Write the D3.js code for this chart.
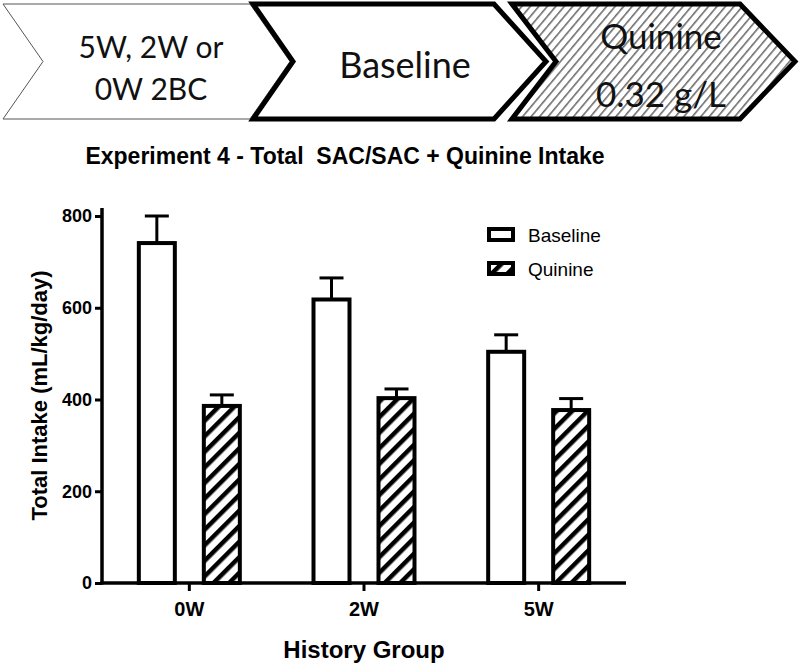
<!DOCTYPE html>
<html>
<head>
<meta charset="utf-8">
<script src="https://cdn.jsdelivr.net/npm/d3@7"></script>
<style>
  body { margin: 0; background: #fff; }
  text { font-family: Arial, "Liberation Sans", sans-serif; }
</style>
</head>
<body>
<div id="chart"></div>
<script>
// chart data
const groups = ["0W", "2W", "5W"];
const series = ["Baseline", "Quinine"];
const baselineMean = [741, 618, 504];
const baselineSem = [59, 47, 37];
const quinineMean = [386, 403, 377];
const quinineSem = [24, 20, 25];
const yTicks = [0, 200, 400, 600, 800];

// banner steps
const stepLines = [["5W, 2W or", "0W 2BC"], ["Baseline"], ["Quinine", "0.32 g/L"]];

const width = 800;
const height = 666;

const svg = d3
  .select("#chart")
  .append("svg")
  .attr("width", width)
  .attr("height", height);

const defs = svg.append("defs");

// hatching for the quinine bars
defs
  .append("pattern")
  .attr("id", "barHatch")
  .attr("patternUnits", "userSpaceOnUse")
  .attr("width", 11)
  .attr("height", 11)
  .attr("patternTransform", "rotate(45)")
  .call((p) => {
    p.append("rect").attr("width", 11).attr("height", 11).attr("fill", "#fff");
    p.append("rect").attr("width", 4.5).attr("height", 11).attr("fill", "#000");
  });

// thin grey hatching for the banner
defs
  .append("pattern")
  .attr("id", "bannerHatch")
  .attr("patternUnits", "userSpaceOnUse")
  .attr("width", 6.5)
  .attr("height", 6.5)
  .attr("patternTransform", "rotate(40)")
  .call((p) => {
    p.append("rect").attr("width", 6.5).attr("height", 6.5).attr("fill", "#fff");
    p.append("rect").attr("width", 1.6).attr("height", 6.5).attr("fill", "#707070");
  });

// Banner of chevrons
function chevron(x0, x1, notch, point, y0, y1) {
  const ym = (y0 + y1) / 2;
  return `M${x0},${y0}L${x1 - point},${y0}L${x1},${ym}L${x1 - point},${y1}L${x0},${y1}L${x0 + notch},${ym}Z`;
}

const chevrons = [
  { x0: 3, x1: 290, notch: 40, point: 40, fill: "#fff", stroke: "#555", sw: 1, cx: 151, fs: 30 },
  { x0: 253, x1: 546, notch: 40, point: 52, fill: "#fff", stroke: "#000", sw: 5, cx: 405, fs: 36 },
  { x0: 512, x1: 795, notch: 44, point: 55, fill: "url(#bannerHatch)", stroke: "#000", sw: 5, cx: 661, fs: 35 },
];

const banner = svg.append("g");
chevrons.forEach((c, i) => {
  banner
    .append("path")
    .attr("d", chevron(c.x0, c.x1, c.notch, c.point, 4, 119))
    .attr("fill", c.fill)
    .attr("stroke", c.stroke)
    .attr("stroke-width", c.sw)
    .attr("stroke-linejoin", "miter");
  const lines = stepLines[i];
  const startY = lines.length === 1 ? 78 : i === 2 ? 49 : 58;
  const gap = i === 2 ? 58 : 42;
  lines.forEach((t, j) => {
    banner
      .append("text")
      .attr("x", c.cx)
      .attr("y", startY + j * gap)
      .attr("text-anchor", "middle")
      .style("font-family", "Lato, 'Open Sans', sans-serif")
      .style("font-size", c.fs + "px")
      .attr("fill", "#111")
      .text(t);
  });
});

// Chart area
const x0 = 102;
const x1 = 626;
const yBottom = 583;
const yTop = 216;

const xScale = d3.scaleBand().domain(groups).range([x0, x1]);
const subScale = d3
  .scaleBand()
  .domain(series)
  .range([-52.5, 52.5])
  .paddingInner(0.3846);
const yScale = d3.scaleLinear().domain([0, 800]).range([yBottom, yTop]);

const rows = [];
groups.forEach((g, i) => {
  rows.push({ group: g, key: "Baseline", mean: baselineMean[i], sem: baselineSem[i] });
  rows.push({ group: g, key: "Quinine", mean: quinineMean[i], sem: quinineSem[i] });
});

const barX = (d) => xScale(d.group) + xScale.bandwidth() / 2 + subScale(d.key);
const sw = 4;

// error bars (drawn first so the bar outline covers the stem start)
const err = svg.append("g").attr("stroke", "#000").attr("stroke-width", 3);
rows.forEach((d) => {
  const cx = barX(d) + subScale.bandwidth() / 2;
  err
    .append("line")
    .attr("x1", cx)
    .attr("x2", cx)
    .attr("y1", yScale(d.mean))
    .attr("y2", yScale(d.mean + d.sem));
  err
    .append("line")
    .attr("x1", cx - 12)
    .attr("x2", cx + 12)
    .attr("y1", yScale(d.mean + d.sem))
    .attr("y2", yScale(d.mean + d.sem));
});

// Draw bars
svg
  .selectAll(".bar")
  .data(rows)
  .enter()
  .append("rect")
  .attr("class", "bar")
  .attr("x", (d) => barX(d) + sw / 2)
  .attr("y", (d) => yScale(d.mean))
  .attr("width", subScale.bandwidth() - sw)
  .attr("height", (d) => yBottom - yScale(d.mean))
  .attr("fill", (d) => (d.key === "Baseline" ? "#fff" : "url(#barHatch)"))
  .attr("stroke", "#000")
  .attr("stroke-width", sw);

// Axes
const yAxis = d3
  .axisLeft(yScale)
  .tickValues(yTicks)
  .tickSize(7)
  .tickSizeOuter(0)
  .tickPadding(3);

const yG = svg.append("g").attr("transform", `translate(${x0}, 0)`).call(yAxis);
yG.select(".domain").remove();
yG.selectAll(".tick line").attr("stroke", "#000").attr("stroke-width", 3);
yG.selectAll(".tick text")
  .attr("fill", "#000")
  .style("font-size", "18px")
  .style("font-weight", "bold");
svg
  .append("line")
  .attr("x1", x0)
  .attr("x2", x0)
  .attr("y1", yBottom + 1.5)
  .attr("y2", 208)
  .attr("stroke", "#000")
  .attr("stroke-width", 3.5);

const xAxis = d3.axisBottom(xScale).tickSize(8).tickSizeOuter(0).tickPadding(11);
const xG = svg.append("g").attr("transform", `translate(0, ${yBottom})`).call(xAxis);
xG.select(".domain").remove();
xG.selectAll(".tick line").attr("stroke", "#000").attr("stroke-width", 3);
xG.selectAll(".tick text")
  .attr("fill", "#000")
  .style("font-size", "20px")
  .style("font-weight", "bold");
svg
  .append("line")
  .attr("x1", x0 - 1.5)
  .attr("x2", x1)
  .attr("y1", yBottom)
  .attr("y2", yBottom)
  .attr("stroke", "#000")
  .attr("stroke-width", 3.5);

// Legend
const legend = svg.append("g");
series.forEach((s, i) => {
  const ly = 229 + i * 34;
  legend
    .append("rect")
    .attr("x", 489)
    .attr("y", ly)
    .attr("width", 24)
    .attr("height", 11)
    .attr("fill", s === "Baseline" ? "#fff" : "url(#barHatch)")
    .attr("stroke", "#000")
    .attr("stroke-width", 4);
  legend
    .append("text")
    .attr("x", 528)
    .attr("y", ly + 13)
    .style("font-size", "19px")
    .text(s);
});

// Titles
svg
  .append("text")
  .attr("x", 345)
  .attr("y", 164)
  .attr("text-anchor", "middle")
  .style("font-size", "23px")
  .style("font-weight", "bold")
  .style("white-space", "pre")
  .text("Experiment 4 - Total  SAC/SAC + Quinine Intake");

svg
  .append("text")
  .attr("transform", `translate(47, ${(yBottom + yTop) / 2 - 4}) rotate(-90)`)
  .attr("text-anchor", "middle")
  .style("font-size", "22px")
  .style("font-weight", "bold")
  .text("Total Intake (mL/kg/day)");

svg
  .append("text")
  .attr("x", 364)
  .attr("y", 658)
  .attr("text-anchor", "middle")
  .style("font-size", "24px")
  .style("font-weight", "bold")
  .text("History Group");
</script>
</body>
</html>
